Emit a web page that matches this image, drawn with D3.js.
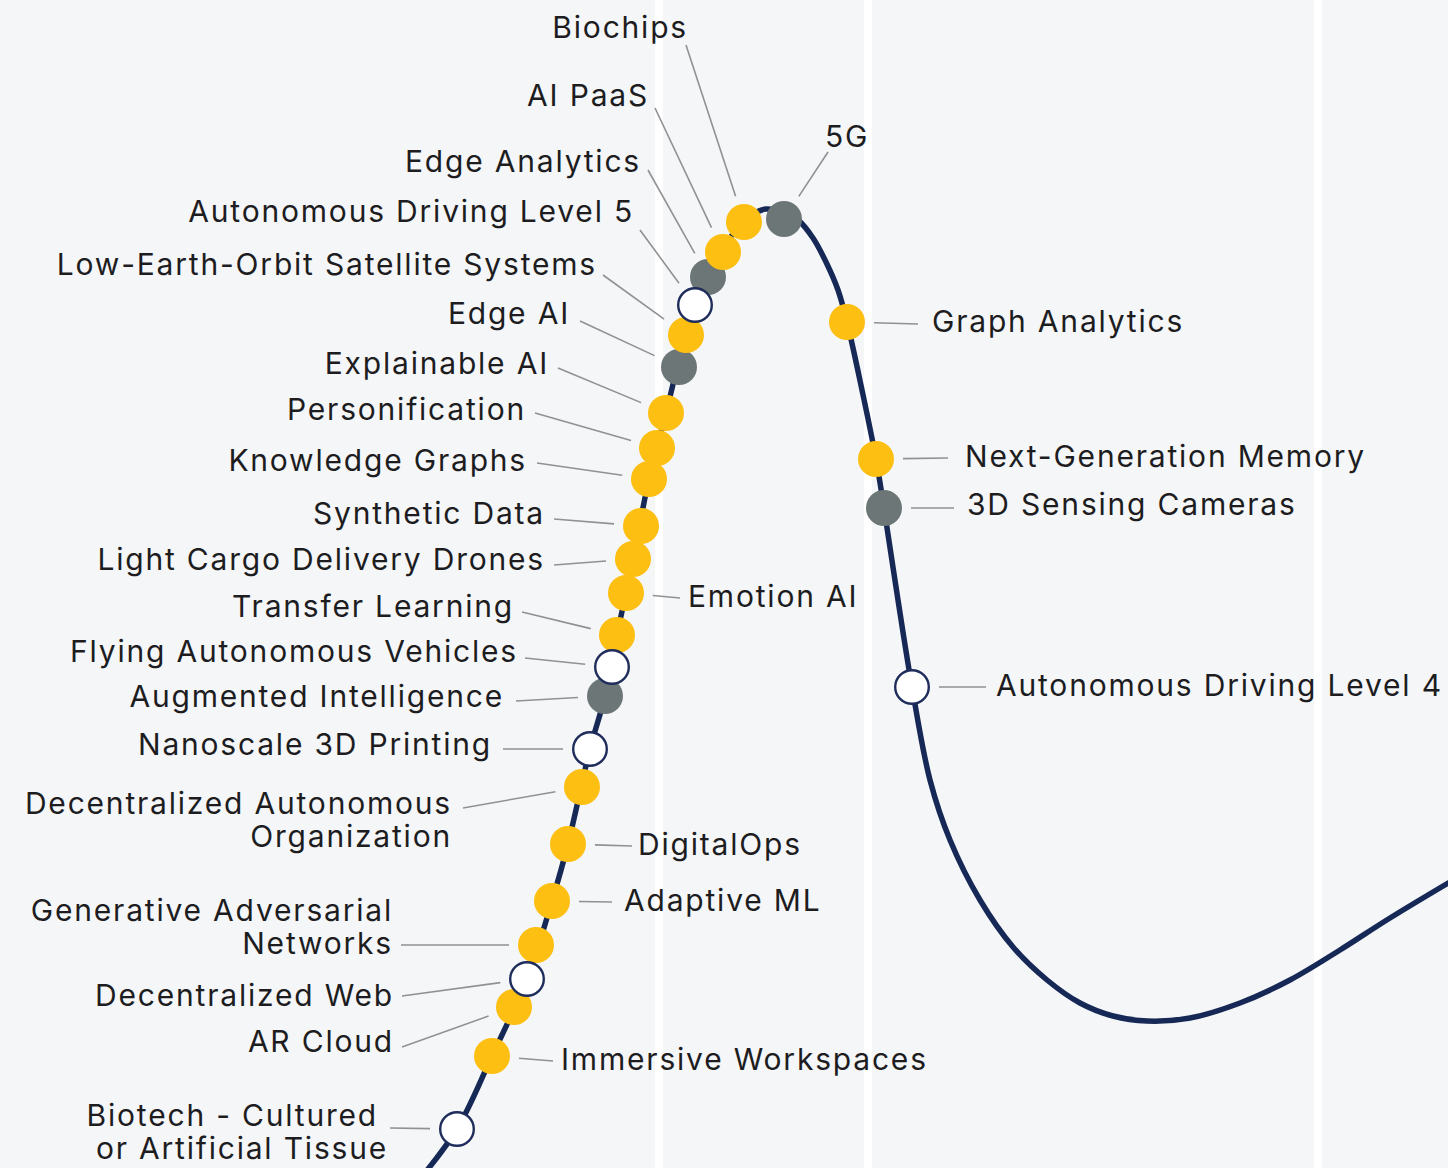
<!DOCTYPE html>
<html>
<head>
<meta charset="utf-8">
<script src="https://cdn.jsdelivr.net/npm/d3@7"></script>
<style>
  html, body { margin: 0; padding: 0; background: #f5f6f8; }
  svg { display: block; }
  .label { font-family: Inter, "Open Sans", sans-serif; font-size: 30px; letter-spacing: 1.8px; fill: #1d1d1f; }
</style>
</head>
<body>
<svg id="chart"></svg>
<script>
// hype curve, in time units (x) and expectation units (y)
var curveTime = [41.5, 45.7, 49.2, 52.7, 55.2, 56.8, 59.0, 60.5, 61.7, 63.3, 64.9, 66.6, 68.6, 70.8,
  73.0, 75.0, 76.6, 78.2, 79.8, 81.3, 82.6, 83.8, 84.7, 86.2, 87.6, 88.4, 89.8, 91.2, 93.0, 95.0,
  98.0, 101.3, 104.7, 108.0, 111.3, 114.7, 119.0, 124.0, 129.0, 134.0, 139.0, 146.0];
var curveExpect = [-1.7, 3.9, 11.2, 18.9, 26.7, 32.4, 41.9, 47.2, 53.3, 60.9, 68.9, 75.5, 83.3, 89.1,
  93.0, 95.2, 95.9, 95.6, 94.8, 93.0, 90.6, 87.8, 84.6, 77.8, 70.9, 66.0, 56.8, 48.1, 38.8, 32.8,
  26.8, 22.1, 18.8, 16.5, 15.2, 14.7, 15.0, 16.5, 18.8, 21.8, 25.0, 29.2];

// phase boundaries (time units)
var phaseEdges = [65.9, 86.8, 131.8];

// technologies on the curve
var techNames = ["Biochips", "AI PaaS", "Edge Analytics", "Autonomous Driving Level 5",
  "Low-Earth-Orbit Satellite Systems", "Edge AI", "Explainable AI", "Personification",
  "Knowledge Graphs", "Synthetic Data", "Light Cargo Delivery Drones", "Emotion AI",
  "Transfer Learning", "Flying Autonomous Vehicles", "Augmented Intelligence",
  "Nanoscale 3D Printing", "Decentralized Autonomous Organization", "DigitalOps", "Adaptive ML",
  "Generative Adversarial Networks", "Decentralized Web", "AR Cloud", "Immersive Workspaces",
  "Biotech - Cultured or Artificial Tissue", "5G", "Graph Analytics", "Next-Generation Memory",
  "3D Sensing Cameras", "Autonomous Driving Level 4"];
var techTime = [74.4, 72.3, 70.8, 69.5, 68.6, 67.9, 66.6, 65.7, 64.9, 64.1, 63.3, 62.6, 61.7, 61.2,
  60.5, 59.0, 58.2, 56.8, 55.2, 53.6, 52.7, 51.4, 49.2, 45.7, 78.4, 84.7, 87.6, 88.4, 91.2];
var techExpect = [94.6, 91.6, 89.1, 86.3, 83.3, 80.1, 75.5, 72.0, 68.9, 64.2, 60.9, 57.5, 53.3, 50.1,
  47.2, 41.9, 38.1, 32.4, 26.7, 22.3, 18.9, 16.1, 11.2, 3.9, 94.9, 84.6, 70.9, 66.0, 48.1];
var techHorizon = ["5-10", "5-10", "2-5", "10+", "5-10", "2-5", "5-10", "5-10", "5-10", "5-10",
  "5-10", "5-10", "5-10", "10+", "2-5", "10+", "5-10", "5-10", "5-10", "5-10", "10+", "5-10",
  "5-10", "10+", "2-5", "5-10", "5-10", "2-5", "10+"];

var horizonKeys = ["2-5", "5-10", "10+"];
var horizonFill = ["#6c7676", "#fdbf12", "#ffffff"];

// label layout: text lines, anchor side, text position, leader start (px)
var labelLines = [["Biochips"], ["AI PaaS"], ["Edge Analytics"], ["Autonomous Driving Level 5"],
  ["Low-Earth-Orbit Satellite Systems"], ["Edge AI"], ["Explainable AI"], ["Personification"],
  ["Knowledge Graphs"], ["Synthetic Data"], ["Light Cargo Delivery Drones"], ["Emotion AI"],
  ["Transfer Learning"], ["Flying Autonomous Vehicles"], ["Augmented Intelligence"],
  ["Nanoscale 3D Printing"], ["Decentralized Autonomous", "Organization"], ["DigitalOps"],
  ["Adaptive ML"], ["Generative Adversarial", "Networks"], ["Decentralized Web"], ["AR Cloud"],
  ["Immersive Workspaces"], ["Biotech - Cultured", "or Artificial Tissue"], ["5G"],
  ["Graph Analytics"], ["Next-Generation Memory"], ["3D Sensing Cameras"],
  ["Autonomous Driving Level 4"]];
var labelLayout = [
  ["end", 688, 38, 686, 45], ["end", 649, 106, 655, 108], ["end", 641, 172, 648, 170],
  ["end", 634, 222, 640, 230], ["end", 597, 275, 603, 275], ["end", 570, 324, 580, 321],
  ["end", 549, 374, 558, 368], ["end", 526, 420, 535, 413], ["end", 527, 471, 537, 463],
  ["end", 545, 524, 554, 519], ["end", 545, 570, 554, 565], ["start", 688, 607, 680, 598],
  ["end", 514, 617, 522, 612], ["end", 518, 662, 525, 658], ["end", 504, 707, 516, 701],
  ["end", 492, 755, 503, 749], ["end", 452, 814, 463, 808], ["start", 638, 855, 632, 846],
  ["start", 624, 911, 612, 902], ["end", 393, 921, 401, 945], ["end", 394, 1006, 402, 996],
  ["end", 394, 1052, 402, 1047], ["start", 561, 1070, 553, 1061], ["end", 378, 1126, 390, 1128],
  ["start", 825, 147, 828, 152], ["start", 932, 332, 918, 324], ["start", 965, 467, 948, 458],
  ["start", 967, 515, 954, 508], ["start", 996, 696, 986, 687]];

var width = 1448, height = 1168;
var dotR = 18, leaderGap = 27;

var svg = d3.select("#chart").attr("width", width).attr("height", height);

var x = d3.scaleLinear().domain([0, 144.8]).range([0, width]);
var y = d3.scaleLinear().domain([0, 116.8]).range([height, 0]);
var fill = d3.scaleOrdinal().domain(horizonKeys).range(horizonFill);

svg.append("rect").attr("width", width).attr("height", height).attr("fill", "#f5f6f8");

svg.append("g").selectAll("rect")
  .data(phaseEdges)
  .join("rect")
  .attr("x", d => x(d) - 4)
  .attr("y", 0)
  .attr("width", 8)
  .attr("height", height)
  .attr("fill", "#ffffff");

var curveData = curveTime.map((t, i) => [t, curveExpect[i]]);
var line = d3.line()
  .x(d => x(d[0]))
  .y(d => y(d[1]))
  .curve(d3.curveCatmullRom.alpha(0.5));

svg.append("path")
  .datum(curveData)
  .attr("d", line)
  .attr("fill", "none")
  .attr("stroke", "#162856")
  .attr("stroke-width", 5.5);

var techs = techNames.map((n, i) => ({
  name: n,
  t: techTime[i],
  e: techExpect[i],
  horizon: techHorizon[i],
  lines: labelLines[i],
  anchor: labelLayout[i][0],
  tx: labelLayout[i][1],
  ty: labelLayout[i][2],
  lx: labelLayout[i][3],
  ly: labelLayout[i][4],
}));

// leaders
svg.append("g").selectAll("line")
  .data(techs)
  .join("line")
  .attr("x1", d => d.lx)
  .attr("y1", d => d.ly)
  .attr("x2", d => {
    let cx = x(d.t), cy = y(d.e);
    let dist = Math.hypot(cx - d.lx, cy - d.ly);
    return cx - (cx - d.lx) * leaderGap / dist;
  })
  .attr("y2", d => {
    let cx = x(d.t), cy = y(d.e);
    let dist = Math.hypot(cx - d.lx, cy - d.ly);
    return cy - (cy - d.ly) * leaderGap / dist;
  })
  .attr("stroke", "#8f9194")
  .attr("stroke-width", 1.6);

// dots: gray under yellow under white
var order = { "2-5": 0, "5-10": 1, "10+": 2 };
var sorted = techs.slice().sort((a, b) => order[a.horizon] - order[b.horizon]);
svg.append("g").selectAll("circle")
  .data(sorted)
  .join("circle")
  .attr("cx", d => x(d.t))
  .attr("cy", d => y(d.e))
  .attr("r", d => d.horizon == "10+" ? dotR - 1.2 : dotR)
  .attr("fill", d => fill(d.horizon))
  .attr("stroke", d => d.horizon == "10+" ? "#1f2d5c" : "none")
  .attr("stroke-width", 2.4);

// labels
var labels = svg.append("g").selectAll("text")
  .data(techs)
  .join("text")
  .attr("class", "label")
  .attr("text-anchor", d => d.anchor)
  .attr("x", d => d.tx)
  .attr("y", d => d.ty);

labels.selectAll("tspan")
  .data(d => d.lines.map((l, i) => ({ text: l, d: d, i: i })))
  .join("tspan")
  .attr("x", s => s.d.tx + (s.d.name.startsWith("Biotech") && s.i == 1 ? 10 : 0))
  .attr("dy", s => (s.i == 0 ? 0 : 33))
  .text(s => s.text);
</script>
</body>
</html>
